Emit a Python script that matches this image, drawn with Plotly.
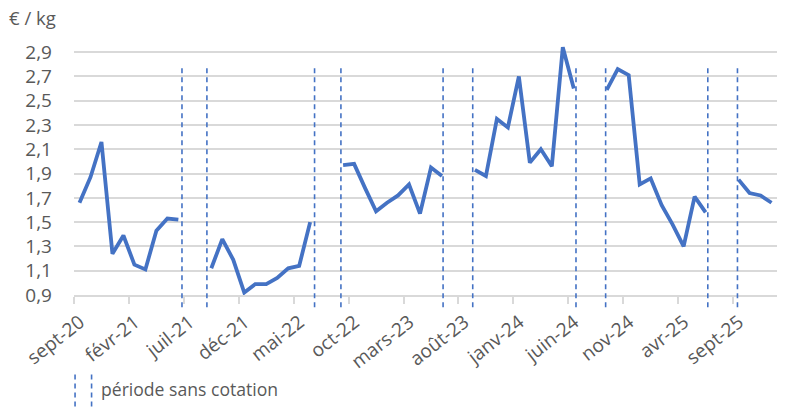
import plotly.graph_objects as go

# ---- data ----
month_index = list(range(64))  # sept-20 ... déc-25, one category per month
price = [
    1.66, 1.87, 2.16, 1.24, 1.39, 1.15, 1.11, 1.43, 1.53, 1.52,
    None, None,
    1.12, 1.36, 1.19, 0.92, 0.99, 0.99, 1.04, 1.12, 1.14, 1.50,
    None, None,
    1.97, 1.98, 1.78, 1.59, 1.66, 1.72, 1.81, 1.57, 1.95, 1.88,
    None, None,
    1.93, 1.88, 2.35, 2.28, 2.70, 1.99, 2.10, 1.96, 2.94, 2.60,
    None, None,
    2.59, 2.76, 2.71, 1.81, 1.86, 1.64, 1.48, 1.30, 1.71, 1.58,
    None, None,
    1.85, 1.74, 1.72, 1.66,
]
tick_labels = ["sept-20", "févr-21", "juil-21", "déc-21", "mai-22", "oct-22",
               "mars-23", "août-23", "janv-24", "juin-24", "nov-24", "avr-25", "sept-25"]
tick_boundaries = [-0.5 + 5 * k for k in range(len(tick_labels))]
no_quote_marks = [9.33, 11.6, 21.4, 23.8, 33.1, 35.8, 45.2, 47.9, 57.2, 59.9]
y_ticks = [0.9, 1.1, 1.3, 1.5, 1.7, 1.9, 2.1, 2.3, 2.5, 2.7, 2.9]
y_tick_text = [f"{v:.1f}".replace(".", ",") for v in y_ticks]

# ---- style ----
BLUE = "#4472C4"
GREY_TXT = "#595959"
GRID = "#d9d9d9"
FONT = "Open Sans"
Y_MIN, Y_MAX = 0.9, 3.0
DASH_TOP, DASH_BOT = 2.79, 0.80

fig = go.Figure()
fig.add_trace(go.Scatter(
    x=month_index, y=price, mode="lines",
    line=dict(color=BLUE, width=3.8),
    connectgaps=False, showlegend=False, hoverinfo="skip",
))

def to_paper(v):
    return (v - Y_MIN) / (Y_MAX - Y_MIN)

shapes = []
for xv in no_quote_marks:
    shapes.append(dict(type="line", xref="x", yref="paper", x0=xv, x1=xv,
                       y0=to_paper(DASH_BOT), y1=to_paper(DASH_TOP),
                       line=dict(color=BLUE, width=1.6, dash="5px,4px")))
# legend symbol: two dashed lines
for px in (0.0015, 0.025):
    shapes.append(dict(type="line", xref="paper", yref="paper", x0=px, x1=px,
                       y0=-0.437, y1=-0.306,
                       line=dict(color=BLUE, width=1.6, dash="5px,4px")))

fig.update_layout(
    width=800, height=410,
    margin=dict(l=74, r=23, t=40, b=115),
    paper_bgcolor="white", plot_bgcolor="white",
    font=dict(family=FONT, size=19, color=GREY_TXT),
    shapes=shapes,
    annotations=[
        dict(text="€ / kg", xref="paper", yref="paper", x=-0.095, y=1.088,
             xanchor="left", yanchor="middle", showarrow=False,
             font=dict(family=FONT, size=18.5, color=GREY_TXT)),
        dict(text="période sans cotation", xref="paper", yref="paper",
             x=0.036, y=-0.37, xanchor="left", yanchor="middle", showarrow=False,
             font=dict(family=FONT, size=17.6, color=GREY_TXT)),
    ],
    xaxis=dict(
        range=[-0.5, 63.5], tickmode="array", tickvals=tick_boundaries,
        ticktext=tick_labels, tickangle=-38, ticks="outside", ticklen=7,
        tickcolor=GRID, tickwidth=1.5, showline=True, linecolor=GRID,
        linewidth=1.5, showgrid=False, zeroline=False, ticklabelshift=6,
        tickfont=dict(family=FONT, size=19, color=GREY_TXT),
    ),
    yaxis=dict(
        range=[Y_MIN, Y_MAX], tickmode="array", tickvals=y_ticks,
        ticktext=y_tick_text, showgrid=True, gridcolor=GRID, gridwidth=1.5,
        zeroline=False, showline=False, ticks="", ticklabelstandoff=21,
        tickfont=dict(family=FONT, size=19, color=GREY_TXT),
    ),
)

fig.write_html("out.html")
